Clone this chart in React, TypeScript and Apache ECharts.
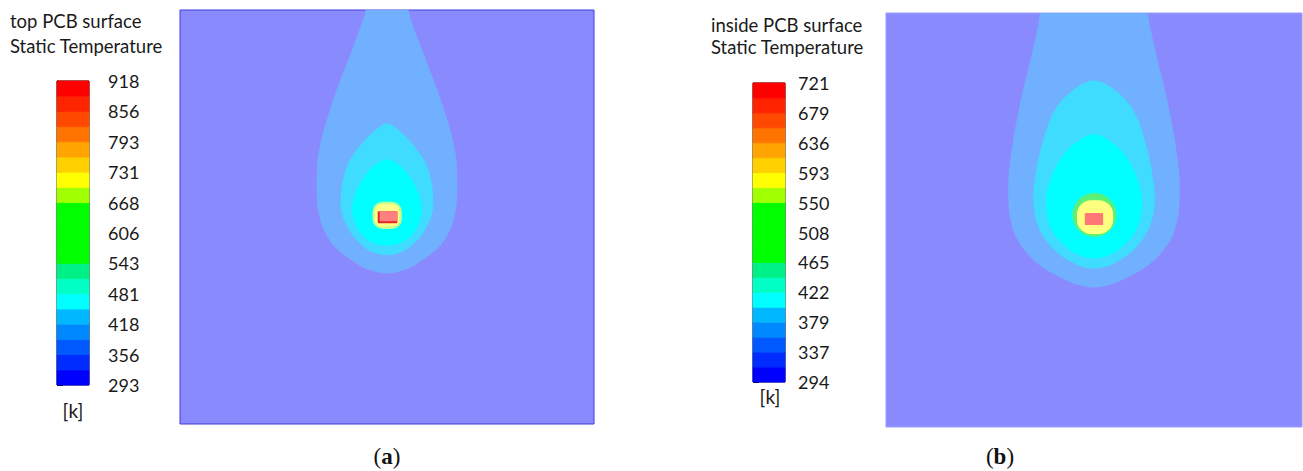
import React, { useEffect, useRef } from 'react';
import * as echarts from 'echarts';

// ---- Colour bar data ----
const labelsA = ['293', '356', '418', '481', '543', '606', '668', '731', '793', '856', '918'];
const labelsB = ['294', '337', '379', '422', '465', '508', '550', '593', '636', '679', '721'];
// 20 colour bands, bottom to top
const bandColors = [
  '#0000ff', '#002cff', '#0058ff', '#0088ff', '#00b8ff', '#00ffff', '#00ffc4', '#00f088',
  '#00ff00', '#00ff00', '#00ff00', '#00ff00', '#a0ff00', '#ffff00', '#ffd000', '#ffa400',
  '#ff7400', '#ff4800', '#ff2400', '#ff0000',
];

// ---- Contour profiles: [depth from top edge (0-100), half width (0-100)] ----
const centerA = 50;
const outerA = [[0, 5.2], [9.7, 8.5], [21.7, 13], [33.8, 16.4], [43.5, 17], [49, 16.5], [53, 15.3], [57, 12.8], [60.4, 8.6], [62.6, 4.8], [63.6, 0]];
const middleA = [[27.4, 0], [29.8, 3.7], [33.8, 7.3], [37.8, 9.7], [44.3, 11.1], [49.1, 10.9], [54, 8.6], [57.2, 5.6], [58.5, 3.4], [59.2, 0]];
const innerA = [[36.1, 0], [37.8, 3.3], [41.1, 6], [45.9, 8.1], [49.9, 8.2], [54, 6.3], [56, 3.8], [56.9, 0]];
// hot spot layers: [x0, x1, y0, y1]
const spotA = [[46.5, 53.6, 46.3, 52.9], [47.1, 53.0, 46.9, 52.3], [47.75, 52.5, 48.6, 51.5]];

const centerB = 50;
const outerB = [[0, 13], [8.9, 14.7], [21, 17.6], [33.1, 19.8], [41.1, 20.6], [49.2, 20.2], [54.8, 18.4], [60.5, 13.6], [64.5, 6.8], [65.7, 3.8], [66.3, 0]];
const middleB = [[16.3, 0], [18.6, 5], [23.4, 9.4], [30.7, 12.2], [38.7, 14], [45.2, 14.6], [51.6, 13.4], [57.2, 9.6], [60.5, 4.8], [61.3, 2.8], [61.7, 0]];
const innerB = [[29.3, 0], [31.5, 4.6], [35.5, 8.2], [41.9, 11], [46.8, 11.5], [52.4, 10.2], [56.4, 6.8], [58.3, 4], [59.3, 0]];
const spotB = [[44.8, 55.4, 43.5, 54.1], [45.9, 54.6, 45.2, 53.4], [47.8, 52.2, 48.3, 51.2]];

// ---- styles ----
const BG = '#8a8aff';
const contourColors = ['#70b0ff', '#40dcff', '#00ffff'];
const spotColorsA = ['#c0ff90', '#ffff88', '#ff8080'];
const spotColorsB = ['#5cf078', '#ffff80', '#ff7878'];
const spotRoundA = [0.75, 0.6, 0.08];
const spotRoundB = [1, 0.85, 0.15];
const FONT = 'Lato';

// centripetal Catmull-Rom through a closed loop of pixel points (drawing only)
function smoothLoop(P: number[][], steps = 14): number[][] {
  const n = P.length;
  const out: number[][] = [];
  const tj = (ti: number, a: number[], b: number[]) => ti + Math.pow(Math.hypot(b[0] - a[0], b[1] - a[1]) || 1e-6, 0.5);
  for (let i = 0; i < n; i++) {
    const p0 = P[(i - 1 + n) % n], p1 = P[i], p2 = P[(i + 1) % n], p3 = P[(i + 2) % n];
    const t0 = 0, t1 = tj(t0, p0, p1), t2 = tj(t1, p1, p2), t3 = tj(t2, p2, p3);
    for (let s = 0; s < steps; s++) {
      const t = t1 + ((t2 - t1) * s) / steps;
      const lerp = (a: number[], b: number[], ta: number, tb: number) => {
        const wa = (tb - t) / (tb - ta), wb = (t - ta) / (tb - ta);
        return [a[0] * wa + b[0] * wb, a[1] * wa + b[1] * wb];
      };
      const A1 = lerp(p0, p1, t0, t1), A2 = lerp(p1, p2, t1, t2), A3 = lerp(p2, p3, t2, t3);
      const B1 = lerp(A1, A2, t0, t2), B2 = lerp(A2, A3, t1, t3);
      out.push(lerp(B1, B2, t1, t2));
    }
  }
  return out;
}

function contourSeries(gridIndex: number, center: number, profiles: number[][][]) {
  return {
    type: 'custom',
    xAxisIndex: gridIndex,
    yAxisIndex: gridIndex,
    clip: true,
    silent: true,
    data: profiles.map((_, i) => [i, i]),
    renderItem: (params: any, api: any) => {
      const k = params.dataIndex;
      const prof = profiles[k];
      const pts: number[][] = [];
      const first = prof[0];
      if (first[0] === 0) pts.push(api.coord([center + first[1], -6]));
      prof.forEach(([y, hw]) => pts.push(api.coord([center + hw, y])));
      for (let j = prof.length - 1; j >= 0; j--) {
        const [y, hw] = prof[j];
        if (hw > 0) pts.push(api.coord([center - hw, y]));
      }
      if (first[0] === 0) pts.push(api.coord([center - first[1], -6]));
      return {
        type: 'polygon',
        shape: { points: smoothLoop(pts) },
        style: { fill: contourColors[k], stroke: null },
      };
    },
  };
}

function spotSeries(gridIndex: number, spots: number[][], colors: string[], round: number[], edge: boolean) {
  return {
    type: 'custom',
    xAxisIndex: gridIndex,
    yAxisIndex: gridIndex,
    clip: true,
    silent: true,
    data: spots.map(() => [50, 50]),
    renderItem: (params: any, api: any) => {
      const i = params.dataIndex;
      const [x0, x1, y0, y1] = spots[i];
      const p0 = api.coord([x0, y0]);
      const p1 = api.coord([x1, y1]);
      const w = p1[0] - p0[0];
      const h = p1[1] - p0[1];
      const r = (Math.min(w, h) / 2) * round[i];
      if (edge && i === spots.length - 1) {
        return {
          type: 'group',
          children: [
            { type: 'rect', shape: { x: p0[0], y: p0[1], width: w, height: h, r: 1 }, style: { fill: '#e02828' } },
            { type: 'rect', shape: { x: p0[0] + 2, y: p0[1], width: w - 2, height: h - 2, r: 0 }, style: { fill: colors[i] } },
          ],
        };
      }
      return {
        type: 'rect',
        shape: { x: p0[0], y: p0[1], width: w, height: h, r },
        style: { fill: colors[i] },
      };
    },
  };
}

function barSeries(gridIndex: number) {
  return {
    type: 'custom',
    xAxisIndex: gridIndex,
    yAxisIndex: gridIndex,
    silent: true,
    data: bandColors.map((_, i) => [0.5, i]),
    renderItem: (params: any, api: any) => {
      const i = params.dataIndex;
      const p0 = api.coord([0, i]);
      const p1 = api.coord([1, i + 1]);
      return {
        type: 'rect',
        shape: { x: p0[0], y: p1[1], width: p1[0] - p0[0], height: p0[1] - p1[1] },
        style: { fill: bandColors[i], stroke: bandColors[i], lineWidth: 0.8 },
      };
    },
  };
}

export default function App() {
  const ref = useRef<HTMLDivElement>(null);
  useEffect(() => {
    document.body.style.margin = '0';
    const chart = echarts.init(ref.current!, null, { renderer: 'svg' });
    const hiddenX = (gi: number) => ({ type: 'value', gridIndex: gi, min: 0, max: 1, show: false });
    const cbY = (gi: number, labels: string[], margin: number) => ({
      type: 'value',
      gridIndex: gi,
      min: 0,
      max: 20,
      interval: 2,
      position: 'right',
      axisLine: { show: true, lineStyle: { color: '#000', width: 1 } },
      axisTick: { show: true, length: 6, lineStyle: { color: '#000', width: 1 } },
      splitLine: { show: false },
      axisLabel: {
        margin,
        color: '#1a1a1a',
        fontFamily: FONT,
        fontSize: 18,
        formatter: (v: number) => labels[Math.round(v / 2)],
      },
    });
    const panelX = (gi: number) => ({ type: 'value', gridIndex: gi, min: 0, max: 100, show: false });
    const panelY = (gi: number) => ({ type: 'value', gridIndex: gi, min: 0, max: 100, inverse: true, show: false });

    const txt = (text: string, x: number, y: number, align = 'left', size = 18.5) => ({
      type: 'text',
      x,
      y,
      z: 10,
      style: { text, fill: '#1a1a1a', font: `${size}px ${FONT}`, textAlign: align, textVerticalAlign: 'middle' },
    });
    const caption = (letter: string, x: number, y: number) => ({
      type: 'text',
      x,
      y,
      style: {
        text: `{p|(}{b|${letter}}{p|)}`,
        textAlign: 'center',
        textVerticalAlign: 'middle',
        rich: {
          p: { fontFamily: 'Liberation Serif', fontSize: 23, fill: '#111' },
          b: { fontFamily: 'Liberation Serif', fontSize: 23, fontWeight: 'bold', fill: '#111' },
        },
      },
    });

    chart.setOption({
      animation: false,
      grid: [
        { left: 57, top: 81, width: 32, height: 304, show: true, borderColor: '#000', borderWidth: 1, backgroundColor: 'transparent' },
        { left: 180, top: 10, width: 414, height: 414, show: true, backgroundColor: BG, borderColor: '#3c3cd8', borderWidth: 1 },
        { left: 753, top: 83, width: 32, height: 299, show: true, borderColor: '#000', borderWidth: 1, backgroundColor: 'transparent' },
        { left: 886, top: 13, width: 416, height: 414, show: true, backgroundColor: BG, borderColor: '#9c9cff', borderWidth: 1 },
      ],
      xAxis: [hiddenX(0), panelX(1), hiddenX(2), panelX(3)],
      yAxis: [cbY(0, labelsA, 19), panelY(1), cbY(2, labelsB, 13), panelY(3)],
      series: [
        barSeries(0),
        contourSeries(1, centerA, [outerA, middleA, innerA]),
        spotSeries(1, spotA, spotColorsA, spotRoundA, true),
        barSeries(2),
        contourSeries(3, centerB, [outerB, middleB, innerB]),
        spotSeries(3, spotB, spotColorsB, spotRoundB, false),
      ],
      graphic: [
        txt('top PCB surface', 10, 21),
        txt('Static Temperature', 10, 46),
        txt('[k]', 73, 410, 'center', 19),
        txt('inside PCB surface', 711, 25),
        txt('Static Temperature', 711, 47),
        txt('[k]', 770, 396, 'center', 19),
        caption('a', 387, 456),
        caption('b', 1000, 456),
      ],
    });
    return () => chart.dispose();
  }, []);
  return <div ref={ref} style={{ width: 1303, height: 471 }} />;
}
